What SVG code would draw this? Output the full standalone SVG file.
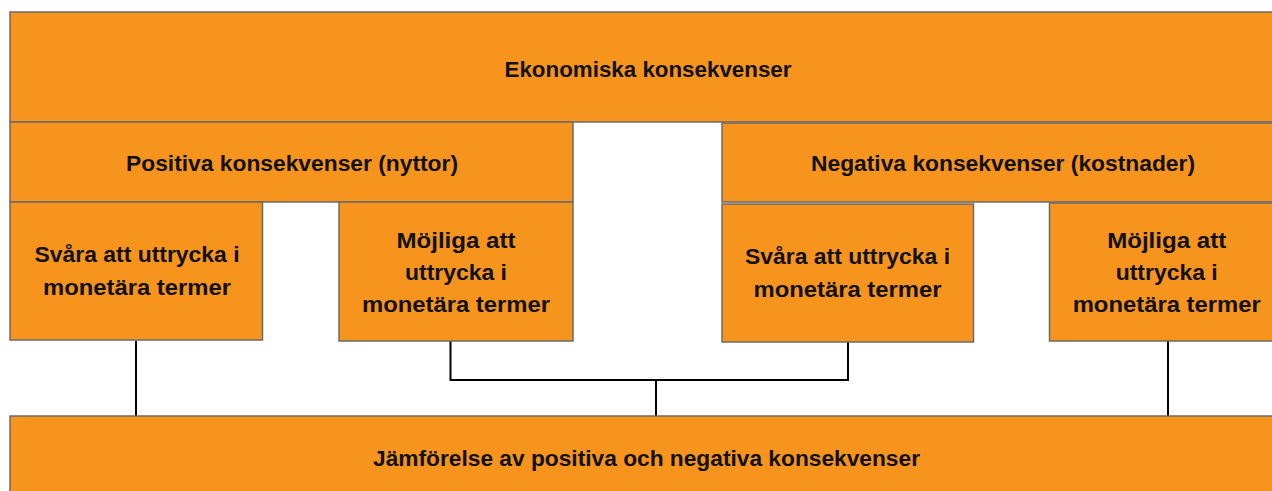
<svg xmlns="http://www.w3.org/2000/svg" width="1272" height="491" viewBox="0 0 1272 491">
<style>
.box{fill:#F7941E;stroke:#6a6a6a;stroke-width:1.5}
.t{font-family:"Liberation Sans",Arial,sans-serif;font-weight:bold;font-size:22px;fill:#111;text-anchor:middle}
.c{stroke:#000;stroke-width:2;fill:none}
</style>
<rect width="1272" height="491" fill="#fff"/>
<g id="connectors">
<line class="c" x1="136" y1="341" x2="136" y2="416"/>
<polyline class="c" points="450.5,341 450.5,380 848,380 848,342"/>
<line class="c" x1="656" y1="380" x2="656" y2="416"/>
<line class="c" x1="1168" y1="341" x2="1168" y2="416"/>
</g>
<g id="ekonomiska">
<rect class="box" x="10" y="12" width="1280" height="110"/>
<text class="t" x="648" y="77" textLength="287" lengthAdjust="spacingAndGlyphs">Ekonomiska konsekvenser</text>
</g>
<g id="positiva">
<rect class="box" x="10" y="122" width="563" height="80"/>
<text class="t" x="292" y="171" textLength="332" lengthAdjust="spacingAndGlyphs">Positiva konsekvenser (nyttor)</text>
</g>
<g id="negativa">
<rect class="box" x="722" y="123" width="570" height="79"/>
<text class="t" x="1003" y="171" textLength="384" lengthAdjust="spacingAndGlyphs">Negativa konsekvenser (kostnader)</text>
</g>
<g id="pos-svara">
<rect class="box" x="10" y="202" width="252.5" height="138"/>
<text class="t" x="137" y="262" textLength="205" lengthAdjust="spacingAndGlyphs">Svåra att uttrycka i</text>
<text class="t" x="137" y="295" textLength="188" lengthAdjust="spacingAndGlyphs">monetära termer</text>
</g>
<g id="pos-mojliga">
<rect class="box" x="339" y="202" width="234" height="139"/>
<text class="t" x="456" y="248" textLength="119" lengthAdjust="spacingAndGlyphs">Möjliga att</text>
<text class="t" x="456" y="279.5" textLength="102" lengthAdjust="spacingAndGlyphs">uttrycka i</text>
<text class="t" x="456" y="311.5" textLength="188" lengthAdjust="spacingAndGlyphs">monetära termer</text>
</g>
<g id="neg-svara">
<rect class="box" x="722" y="204" width="251.5" height="138"/>
<text class="t" x="847.5" y="264" textLength="205" lengthAdjust="spacingAndGlyphs">Svåra att uttrycka i</text>
<text class="t" x="847.5" y="296.5" textLength="188" lengthAdjust="spacingAndGlyphs">monetära termer</text>
</g>
<g id="neg-mojliga">
<rect class="box" x="1049.5" y="203" width="240" height="138"/>
<text class="t" x="1166.7" y="248" textLength="119" lengthAdjust="spacingAndGlyphs">Möjliga att</text>
<text class="t" x="1166.7" y="279.5" textLength="102" lengthAdjust="spacingAndGlyphs">uttrycka i</text>
<text class="t" x="1166.7" y="311.5" textLength="188" lengthAdjust="spacingAndGlyphs">monetära termer</text>
</g>
<g id="jamforelse">
<rect class="box" x="10" y="416" width="1280" height="90"/>
<text class="t" x="646.5" y="466" textLength="547" lengthAdjust="spacingAndGlyphs">Jämförelse av positiva och negativa konsekvenser</text>
</g>
</svg>
